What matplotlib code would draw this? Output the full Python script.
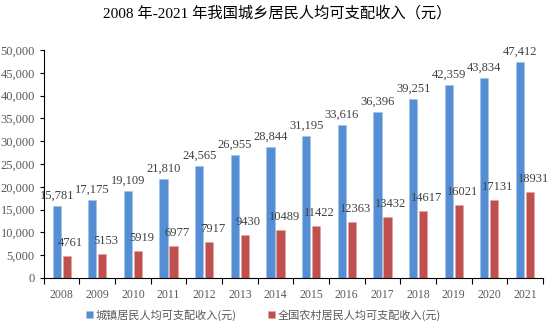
import numpy as np
import matplotlib.pyplot as plt
from matplotlib.ticker import FuncFormatter

plt.rcParams['font.family'] = ['Liberation Serif', 'Noto Sans CJK SC']

years = ['2008', '2009', '2010', '2011', '2012', '2013', '2014',
         '2015', '2016', '2017', '2018', '2019', '2020', '2021']
urban = [15781, 17175, 19109, 21810, 24565, 26955, 28844,
         31195, 33616, 36396, 39251, 42359, 43834, 47412]
rural = [4761, 5153, 5919, 6977, 7917, 9430, 10489,
         11422, 12363, 13432, 14617, 16021, 17131, 18931]

blue = '#558ED5'
red = '#C0504D'
label_color = '#404040'

fig = plt.figure(figsize=(5.55, 3.3), dpi=100)
ax = fig.add_axes([0.079, 0.158, 0.899, 0.69])

x = np.arange(len(years))
w = 0.23
off = 0.14
b1 = ax.bar(x - off, urban, width=w, color=blue, edgecolor='#9DC3E6',
            linewidth=0.4, label='城镇居民人均可支配收入(元)')
b2 = ax.bar(x + off, rural, width=w, color=red, edgecolor='#E6A09E',
            linewidth=0.4, label='全国农村居民人均可支配收入(元)')

# value labels above each bar
for xi, v in zip(x, urban):
    ax.annotate(f'{v:,}', (xi - off, v), xytext=(0, 3), textcoords='offset points',
                ha='center', va='bottom', fontsize=9, color=label_color)
for xi, v in zip(x, rural):
    ax.annotate(f'{v}', (xi + off + 0.1, v), xytext=(0, 5), textcoords='offset points',
                ha='center', va='bottom', fontsize=9, color=label_color)

ax.set_xlim(-0.5, len(years) - 0.5)
ax.set_ylim(0, 50000)
ax.set_yticks(np.arange(0, 50001, 5000))
ax.yaxis.set_major_formatter(FuncFormatter(lambda v, p: f'{int(v):,}'))
ax.tick_params(axis='y', labelsize=9, labelcolor='#595959', length=3, width=0.8)

# year labels centred under groups, tick marks between groups
ax.set_xticks(x)
ax.set_xticklabels(years)
ax.set_xticks(np.arange(-0.5, len(years), 1), minor=True)
ax.tick_params(axis='x', which='major', length=0, labelsize=8.5,
               labelcolor='#595959', pad=8)
ax.tick_params(axis='x', which='minor', length=4, width=0.8)

for s in ['top', 'right']:
    ax.spines[s].set_visible(False)
ax.spines['left'].set_linewidth(0.8)
ax.spines['bottom'].set_linewidth(0.8)

fig.text(0.5, 0.96, '2008 年-2021 年我国城乡居民人均可支配收入（元）',
         ha='center', va='center', fontsize=11, color='black')

fig.legend(handles=[b1, b2], loc='center', bbox_to_anchor=(0.475, 0.045), ncol=2,
           frameon=False, prop={'family': 'Noto Sans CJK SC', 'size': 8},
           labelcolor='#595959', handlelength=0.6, handleheight=0.6,
           handletextpad=0.3, columnspacing=2.8)

fig.savefig('out.png', dpi=100)
